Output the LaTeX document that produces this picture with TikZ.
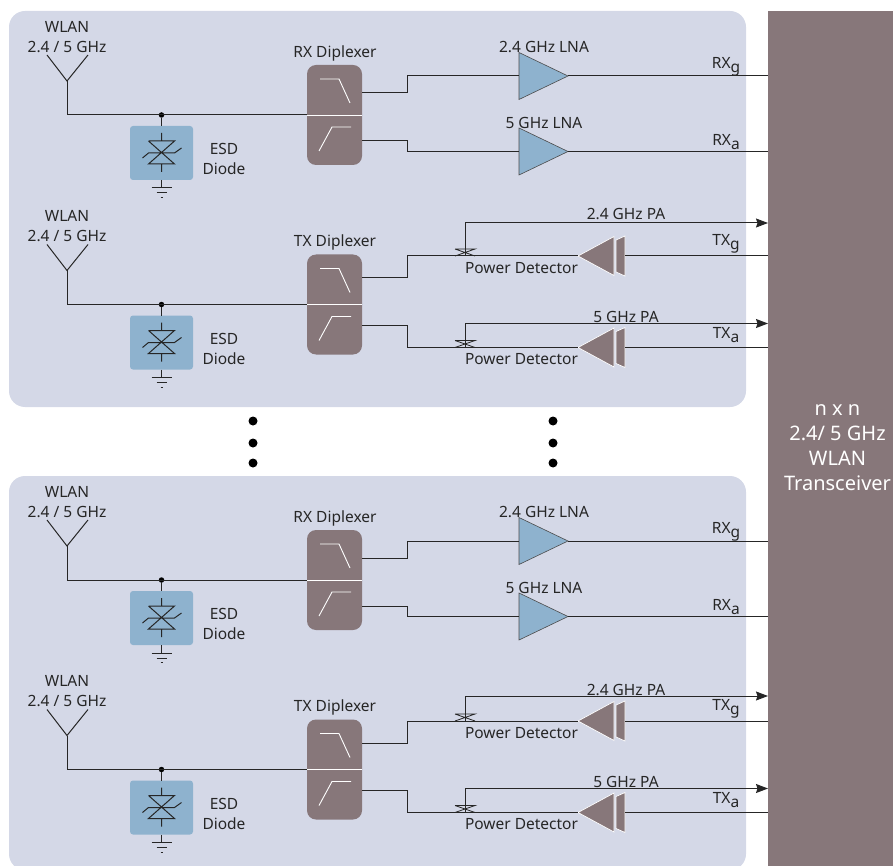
\documentclass[tikz,border=0pt]{standalone}
\usepackage{fontspec}
\setmainfont{Noto Sans}
\usetikzlibrary{arrows.meta,positioning,calc,shapes.geometric}
\definecolor{panelc}{HTML}{D4D8E7}
\definecolor{trxc}{HTML}{87777A}
\definecolor{bluec}{HTML}{8EB2CE}
\definecolor{inkc}{HTML}{262626}
\newcommand{\subtx}[1]{\raisebox{-4pt}{#1}}
\tikzset{
  lbl/.style={font=\fontsize{15.5}{20}\selectfont, text=inkc, align=center, inner sep=0pt},
  wire/.style={line width=1pt, draw=black!85},
  arr/.style={wire, -{Stealth[length=12pt, width=9pt, inset=1.5pt]}},
  panel/.style={fill=panelc, rounded corners=16pt, minimum width=737pt, inner sep=0pt},
  dipbox/.style={fill=trxc, rounded corners=9pt, minimum width=55pt, minimum height=100pt, inner sep=0pt, outer sep=0pt},
  esdbox/.style={fill=bluec, rounded corners=3pt, minimum width=63pt, minimum height=54pt, inner sep=0pt, outer sep=0pt},
  filt/.style={draw=white, line width=.9pt},
  lna/.style={isosceles triangle, isosceles triangle stretches, fill=bluec, draw=black!70, line width=.6pt,
    minimum width=47pt, minimum height=49pt, inner sep=0pt, outer sep=0pt, anchor=lower side},
  drv/.style={isosceles triangle, isosceles triangle stretches, shape border rotate=180, fill=trxc, draw=white, line width=.7pt,
    minimum width=39pt, minimum height=36pt, inner sep=0pt, outer sep=0pt, anchor=lower side},
  jdot/.style={circle, fill=black, minimum size=5.5pt, inner sep=0pt},
  bigdot/.style={circle, fill=black, minimum size=9pt, inner sep=0pt},
}

\begin{document}
\begin{tikzpicture}[x=1pt, y=-1pt]
  \useasboundingbox (0,0) rectangle (893,866);
  \clip (0,0) rectangle (893,866);
  \node[panel, minimum height=396pt] (top) at (377.5,209) {};
  \node[panel, minimum height=394pt] (bot) at (377.5,673) {};
  \node[fill=trxc, minimum width=125pt, minimum height=855pt, inner sep=0pt, outer sep=0pt] (trx) at (830.5,438.5) {};
  \node[lbl, text=white, font=\fontsize{20}{25}\selectfont] (trxtext) at (837.5,448) {n x n\\2.4/ 5 GHz\\WLAN\\Transceiver};
  \foreach \x/\n in {253/l,553/r} \foreach \y/\m in {421/a,443/b,463/c}
    \node[bigdot] (gap\n\m) at (\x,\y) {};

  \foreach \g/\dy/\pay/\paly in {u/0/223/214,l/465/231/225} {
    \begin{scope}[shift={(0,\dy)}]
      % antenna, ESD diode and diplexer
      \foreach \s/\sy/\dname in {rx/0/RX Diplexer,tx/189.5/TX Diplexer} {
        \begin{scope}[shift={(0,\sy)}]
          \node[lbl] (ant\g\s) at (67,37) {WLAN\\2.4 / 5 GHz};
          \coordinate (apex\g\s) at (67,81);
          \coordinate (armL\g\s) at (47,55);
          \coordinate (armR\g\s) at (88,55);
          \node[dipbox] (dip\g\s) at (334.5,115) {};
          \node[lbl] (dipl\g\s) at (335,53) {\dname};
          \node[esdbox] (esd\g\s) at (161.5,153) {};
          \node[lbl] (esdl\g\s) at (224,159) {ESD\\Diode};
          \node[jdot] (jn\g\s) at (161.5,115) {};
          \coordinate (gnd\g\s) at ([yshift=-8pt]esd\g\s.south);
          \draw[wire] (armL\g\s) -- (apex\g\s) -- (armR\g\s);
          \draw[wire] (apex\g\s) |- (dip\g\s.west);
          \draw[wire] (jn\g\s) -- (esd\g\s.north);
          \draw[wire] (esd\g\s.south) -- (gnd\g\s);
          \draw[wire, shift={(gnd\g\s)}] (-10,0) -- (10,0) (-5,5) -- (5,5) (-1,9.5) -- (1,9.5);
          \draw[wire, shift={(esd\g\s.center)}] (0,-20) -- (0,-12) (-13,-12) -- (13,-12) -- (-13,11) -- (13,11) -- (-13,-12)
            (0,11) -- (0,19) (-19,5) -- (-13,0) -- (13,0) -- (20,-5);
          \draw[filt] (dip\g\s.west) -- (dip\g\s.east);
          \draw[filt, shift={(dip\g\s.center)}] (-14.5,-36) -- (4.5,-36) -- (15.5,-12) (-15.5,36) -- (-2.5,12) -- (16.5,12);
        \end{scope}
      }
      % receive paths
      \foreach \b/\ly/\oy/\lab/\pin in {g/76/93/2.4 GHz LNA/RX\subtx{g},a/151.5/141/5 GHz LNA/RX\subtx{a}} {
        \node[lna] (lna\g\b) at (519,\ly) {};
        \node[lbl] (lnal\g\b) at (544,\ly-29) {\lab};
        \node[lbl] (rx\g\b) at (726,\ly-9) {\pin};
        \coordinate (rxo\g\b) at (362,\oy);
        \draw[wire] (rxo\g\b) -- ++(45,0) |- (lna\g\b.lower side);
        \draw[wire] (lna\g\b.apex) -- (lna\g\b.apex -| trx.west);
      }
      % transmit paths
      \foreach \b/\my/\oy/\py/\ply/\lab/\pin in {g/256/278/\pay/\paly/2.4 GHz PA/TX\subtx{g},a/347.5/325/323.5/317/5 GHz PA/TX\subtx{a}} {
        \node[drv] (pa\g\b) at (614,\my) {};
        \node[lbl] (dett\g\b) at (521.5,\my+12) {Power Detector};
        \node[lbl] (pal\g\b) at (626,\ply) {\lab};
        \node[lbl] (tx\g\b) at (726,\my-12) {\pin};
        \coordinate (txo\g\b) at (362,\oy);
        \coordinate (det\g\b) at (465,\my);
        \coordinate (paout\g\b) at (625,\my);
        \coordinate (pacp\g\b) at (465,\py);
        \fill[trxc, draw=white, line width=.7pt, shift={(paout\g\b)}] (-9,-16) -- (0,-20) -- (0,20) -- (-9,16) -- cycle;
        \draw[wire] (txo\g\b) -- ++(45,0) |- (pa\g\b.apex);
        \draw[wire] (paout\g\b) -- (paout\g\b -| trx.west);
        \draw[arr] (det\g\b) -- (pacp\g\b) -- (pacp\g\b -| trx.west);
        \draw[wire, line width=.8pt, shift={(det\g\b)}] (-10,-7) -- (10,-7) -- (-10,0) (-10,-7) -- (10,0);
      }
    \end{scope}
  }
\end{tikzpicture}
\end{document}
